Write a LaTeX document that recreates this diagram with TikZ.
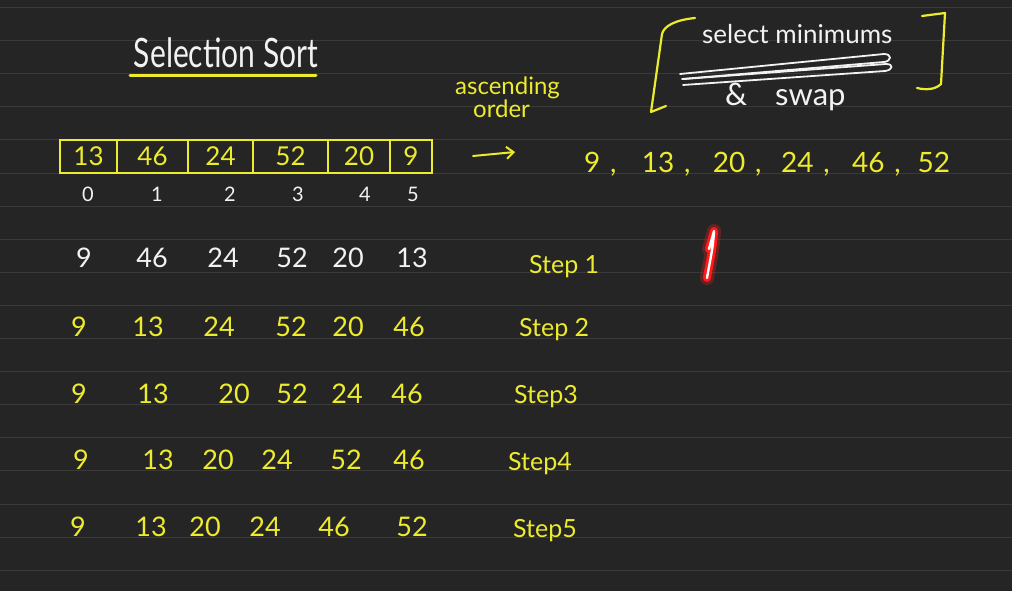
\documentclass[tikz,border=0pt]{standalone}
\usepackage{fontspec}
\setmainfont{Lato}
\usetikzlibrary{arrows.meta}
\definecolor{board}{HTML}{252525}
\definecolor{rule}{HTML}{3A3A3A}
\definecolor{chalkY}{HTML}{EDEB2E}
\definecolor{chalkW}{HTML}{F2F2F2}
\definecolor{laser}{HTML}{FF1A1A}
\tikzset{
  yel/.style={text=chalkY, inner sep=0pt, anchor=base, font=\fontsize{27}{29}\selectfont},
  wht/.style={text=chalkW, inner sep=0pt, anchor=base, font=\fontsize{27}{29}\selectfont},
  idx/.style={text=chalkW, inner sep=0pt, anchor=base, font=\fontsize{20}{22}\selectfont},
  cellbox/.style={draw=chalkY, line width=2.4pt, minimum height=33pt, inner sep=0pt, outer sep=0pt, anchor=north west, text=chalkY, font=\fontsize{26}{28}\selectfont},
  steplbl/.style={text=chalkY, inner sep=0pt, anchor=base west, font=\fontsize{25}{27}\selectfont},
  stroke/.style={line width=2.2pt, line cap=round, line join=round},
}
\begin{document}
\begin{tikzpicture}[x=1pt,y=-1pt]
\useasboundingbox (0,0) rectangle (1012,591);
\fill[board] (0,0) rectangle (1012,591);
\foreach \k in {0,...,17}{
  \draw[rule, line width=1pt] (0,{7.5+33.1*\k}) -- (1012,{7.5+33.1*\k});
}
% title
\node[text=chalkW, inner sep=0pt, anchor=base, font=\fontsize{30}{32}\selectfont] (title) at (226,68) {\scalebox{1}[1.35]{Selection Sort}};
\coordinate (ulA) at (130,76);
\coordinate (ulB) at (316,76);
\draw[chalkY, line width=3pt, line cap=round] (ulA) -- (ulB);
% array
\node[cellbox, minimum width=57pt] (c0) at (60,140) {13};
\node[cellbox, minimum width=71pt] (c1) at (c0.north east) {46};
\node[cellbox, minimum width=65pt] (c2) at (c1.north east) {24};
\node[cellbox, minimum width=75pt] (c3) at (c2.north east) {52};
\node[cellbox, minimum width=62pt] (c4) at (c3.north east) {20};
\node[cellbox, minimum width=42pt] (c5) at (c4.north east) {9};
% indices
\node[idx] (i0) at (88,201) {0};
\node[idx] (i1) at (157,201) {1};
\node[idx] (i2) at (230,201) {2};
\node[idx] (i3) at (298,201) {3};
\node[idx] (i4) at (365,201) {4};
\node[idx] (i5) at (413,201) {5};
% row 1 (white)
\node[wht] (r1a) at (84,267) {9};
\node[wht] (r1b) at (152,267) {46};
\node[wht] (r1c) at (223,267) {24};
\node[wht] (r1d) at (292,267) {52};
\node[wht] (r1e) at (348,267) {20};
\node[wht] (r1f) at (412,267) {13};
% row 2
\node[yel] (r2a) at (79,336) {9};
\node[yel] (r2b) at (148,336) {13};
\node[yel] (r2c) at (219,336) {24};
\node[yel] (r2d) at (291,336) {52};
\node[yel] (r2e) at (348,336) {20};
\node[yel] (r2f) at (409,336) {46};
% row 3
\node[yel] (r3a) at (79,403) {9};
\node[yel] (r3b) at (153,403) {13};
\node[yel] (r3c) at (234,403) {20};
\node[yel] (r3d) at (292,403) {52};
\node[yel] (r3e) at (347,403) {24};
\node[yel] (r3f) at (407,403) {46};
% row 4
\node[yel] (r4a) at (81,469) {9};
\node[yel] (r4b) at (158,469) {13};
\node[yel] (r4c) at (218,469) {20};
\node[yel] (r4d) at (277,469) {24};
\node[yel] (r4e) at (346,469) {52};
\node[yel] (r4f) at (409,469) {46};
% row 5
\node[yel] (r5a) at (78,536) {9};
\node[yel] (r5b) at (151,536) {13};
\node[yel] (r5c) at (205,536) {20};
\node[yel] (r5d) at (265,536) {24};
\node[yel] (r5e) at (334,536) {46};
\node[yel] (r5f) at (412,536) {52};
% step labels
\node[steplbl] (s1) at (529,273) {Step 1};
\node[steplbl] (s2) at (519,336) {Step 2};
\node[steplbl] (s3) at (514,403) {Step3};
\node[steplbl] (s4) at (508,470) {Step4};
\node[steplbl] (s5) at (513,537) {Step5};
% ascending order
\node[text=chalkY, inner sep=0pt, anchor=base west, font=\fontsize{24}{26}\selectfont] (asc) at (455,95) {ascending};
\node[text=chalkY, inner sep=0pt, anchor=base west, font=\fontsize{24}{26}\selectfont] (ord) at (473,118) {order};
% arrow
\coordinate (arrS) at (473,156);
\coordinate (arrE) at (515,152);
\draw[chalkY, line width=2pt, line cap=round, -{Straight Barb[length=7pt,width=12pt]}] (arrS) -- (arrE);
% sorted list
\node[text=chalkY, inner sep=0pt, anchor=base west, font=\fontsize{28}{30}\selectfont] (sorted) at (584,172) {9\hspace{.35em},\hspace{.9em}13\hspace{.35em},\hspace{.8em}20\hspace{.35em},\hspace{.7em}24\hspace{.35em},\hspace{.8em}46\hspace{.35em},\hspace{.6em}52};
% bracket and note
\draw[chalkY, stroke] (695,18) .. controls (675,20) and (664,26) .. (662,34) -- (651,112) -- (666,106);
\draw[chalkY, stroke] (922,16) -- (945,13) -- (941,84) .. controls (935,90) and (925,90) .. (917,88);
\node[text=chalkW, inner sep=0pt, anchor=base west, font=\fontsize{26}{28}\selectfont] (sel) at (702,44) {select minimums};
\node[text=chalkW, inner sep=0pt, anchor=base west, font=\fontsize{31}{33}\selectfont] (swp) at (725,106) {\&\hspace{0.9em}swap};
\draw[chalkW, line width=1.8pt, line cap=round, line join=round]
  (680,74) -- (884,54) .. controls (892,54) and (892,61) .. (884,62) -- (682,79);
\draw[chalkW, line width=1.8pt, line cap=round, line join=round]
  (684,79) -- (886,64) .. controls (894,64) and (893,70) .. (885,71) -- (683,85);
% red laser mark
\coordinate (lzA) at (709,249);
\coordinate (lzB) at (714,231);
\coordinate (lzC) at (707,278);
\draw[laser, opacity=0.3, line width=14pt, line cap=round, line join=round] (lzA) -- (lzB) .. controls (713,250) and (709,265) .. (lzC);
\draw[laser, line width=8pt, line cap=round, line join=round] (lzA) -- (lzB) .. controls (713,250) and (709,265) .. (lzC);
\draw[white, line width=2.4pt, line cap=round, line join=round] (lzA) -- (lzB) .. controls (713,250) and (709,265) .. (lzC);
\end{tikzpicture}
\end{document}
